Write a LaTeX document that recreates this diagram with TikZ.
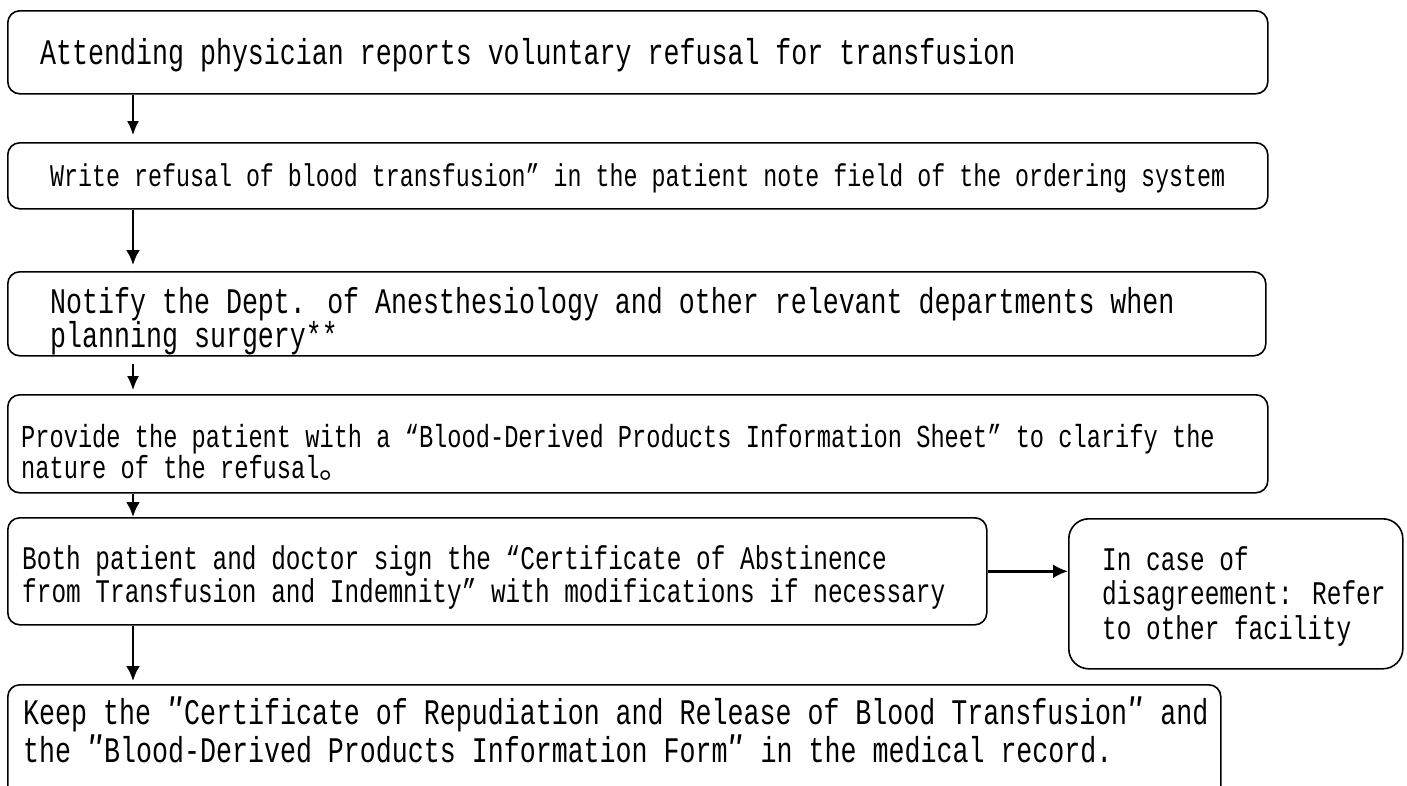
\documentclass[tikz,border=0pt]{standalone}
\usepackage{fontspec}
\usetikzlibrary{arrows.meta}
\newfontfamily\monoA[FakeStretch=0.74]{Liberation Mono}
\newfontfamily\cjkJP{Noto Sans CJK JP}
\newcommand\fntL[1]{\monoA\fontsize{36}{#1}\selectfont\lineskiplimit=-100pt\relax}
\newcommand\fntM[2]{\monoA\fontsize{#1}{#2}\selectfont\lineskiplimit=-100pt\relax}
\newcommand\fntS[1]{\monoA\fontsize{33}{#1}\selectfont\lineskiplimit=-100pt\relax}
\newcommand\dpr{{\cjkJP ″}}
\begin{document}
\begin{tikzpicture}[x=1pt,y=-1pt]
\tikzset{
  box/.style={draw, line width=1.6pt, rounded corners=12pt, inner sep=0pt, anchor=north west},
  txt/.style={anchor=base west, inner sep=0pt, align=left},
  thinarr/.style={-{Latex[length=14pt,width=12pt]}, line width=1.4pt},
  thickarr/.style={-{Latex[length=15pt,width=14pt]}, line width=2.6pt},
}
\useasboundingbox (0,0) rectangle (1407,785);
\coordinate (ax) at (133,0);
% boxes
\node[box, minimum width=1260pt, minimum height=83pt] (b1) at (7,10) {};
\node[box, minimum width=1260pt, minimum height=66pt] (b2) at (7,142) {};
\node[box, minimum width=1258pt, minimum height=84pt] (b3) at (7,271) {};
\node[box, minimum width=1260pt, minimum height=98pt] (b4) at (7,394) {};
\node[box, minimum width=979pt, minimum height=107pt] (b5) at (7,517) {};
\node[box, rounded corners=20pt, minimum width=334pt, minimum height=150pt] (s) at (1068,518) {};
\node[box, minimum width=1213pt, minimum height=120pt] (b6) at (7,684) {};
% texts (anchor = baseline of the last line)
\node[txt, font=\fntL{36}] (t1) at (40,64) {Attending physician reports voluntary refusal for transfusion};
\node[txt, font=\fntM{31.5}{32}] (t2) at (50,186) {Write refusal of blood transfusion” in the patient note field of the ordering system};
\node[txt, font=\fntL{34}] (t3) at (50,347) {Notify the Dept. of Anesthesiology and other relevant departments when\\planning surgery**};
\node[txt, font=\fntM{32}{31}] (t4) at (21,478) {Provide the patient with a “Blood-Derived Products Information Sheet” to clarify the\\nature of the refusal{\cjkJP 。}};
\node[txt, font=\fntS{33}] (t5) at (22,602) {Both patient and doctor sign the “Certificate of Abstinence\\from Transfusion and Indemnity” with modifications if necessary};
\node[txt, font=\fntS{34.5}] (ts) at (1102,639) {In case of\\disagreement: Refer\\to other facility};
\node[txt, font=\fntL{38}] (t6) at (23,762) {Keep the \dpr Certificate of Repudiation and Release of Blood Transfusion\dpr{} and\\the \dpr Blood-Derived Products Information Form\dpr{} in the medical record.};
% connectors
\draw[thinarr, shorten >=7pt] (b1.south -| ax) -- (b2.north -| ax);
\draw[thickarr, shorten >=6pt] (b2.south -| ax) -- (b3.north -| ax);
\draw[thinarr, shorten <=7pt, shorten >=4pt] (b3.south -| ax) -- (b4.north -| ax);
\draw[thickarr] (b4.south -| ax) -- (b5.north -| ax);
\draw[thickarr, shorten >=3pt] (b5.south -| ax) -- (b6.north -| ax);
\draw[thickarr] (b5.east) -- (b5.east -| s.west);
\end{tikzpicture}
\end{document}
